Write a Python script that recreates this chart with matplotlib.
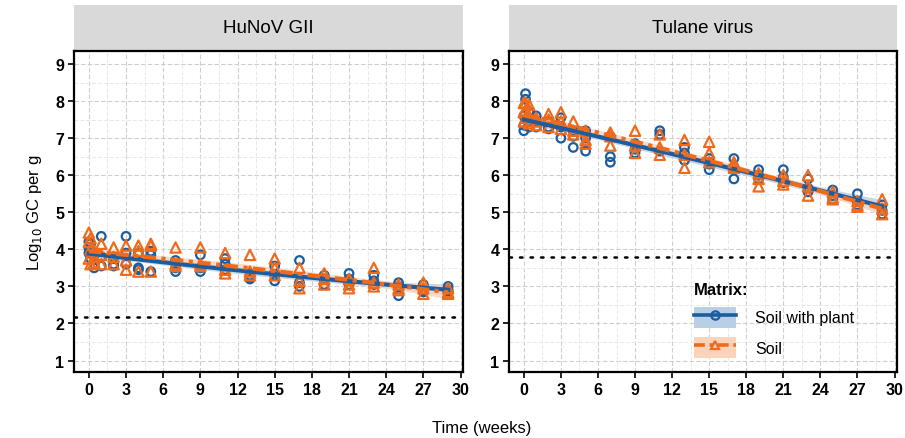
import numpy as np
import matplotlib
matplotlib.use("Agg")
import matplotlib.pyplot as plt
from matplotlib.patches import Patch, Rectangle
from matplotlib.lines import Line2D
from matplotlib.ticker import MultipleLocator

plt.rcParams["font.family"] = ["Liberation Sans", "DejaVu Sans"]

# sampling times (weeks), three replicates each
weeks = [0, 0.14, 0.43, 1, 2, 3, 4, 5, 7, 9, 11, 13, 15, 17, 19, 21, 23, 25, 27, 29]

panels = ["HuNoV GII", "Tulane virus"]
matrices = ["Soil with plant", "Soil"]
lod = [2.17, 3.78]

# log10 GC per g, HuNoV GII
hunov_plant = [
    [4.2, 4.05, 3.9], [4.15, 3.95, 3.75], [3.85, 3.6, 3.5], [4.35, 3.8, 3.55],
    [3.75, 3.6, 3.55], [4.35, 3.9, 3.6], [3.9, 3.5, 3.45], [3.95, 3.85, 3.4],
    [3.7, 3.5, 3.4], [3.85, 3.5, 3.4], [3.75, 3.6, 3.45], [3.3, 3.25, 3.2],
    [3.55, 3.3, 3.15], [3.7, 3.1, 3.0], [3.3, 3.2, 3.05], [3.35, 3.2, 3.05],
    [3.3, 3.15, 3.05], [3.1, 3.0, 2.75], [3.05, 2.9, 2.85], [3.0, 2.9, 2.85],
]
hunov_soil = [
    [4.45, 4.2, 3.75], [4.3, 4.0, 3.6], [3.95, 3.8, 3.65], [4.15, 3.85, 3.6],
    [4.05, 3.8, 3.6], [4.1, 3.7, 3.45], [4.1, 3.95, 3.4], [4.15, 4.1, 3.4],
    [4.05, 3.6, 3.55], [4.05, 3.6, 3.55], [3.9, 3.45, 3.35], [3.85, 3.4, 3.3],
    [3.75, 3.5, 3.3], [3.5, 3.15, 2.95], [3.35, 3.2, 3.05], [3.2, 3.05, 2.95],
    [3.5, 3.1, 3.0], [3.05, 2.95, 2.9], [3.1, 2.95, 2.8], [2.95, 2.85, 2.8],
]
# log10 GC per g, Tulane virus
tulane_plant = [
    [7.6, 7.35, 7.2], [8.2, 8.05, 7.5], [7.7, 7.45, 7.3], [7.6, 7.45, 7.3],
    [7.45, 7.3, 7.25], [7.55, 7.3, 7.0], [7.2, 7.05, 6.75], [7.2, 7.0, 6.65],
    [7.05, 6.5, 6.35], [6.85, 6.7, 6.6], [7.2, 7.1, 6.65], [6.75, 6.6, 6.4],
    [6.45, 6.3, 6.15], [6.45, 6.2, 5.9], [6.15, 6.0, 5.9], [6.15, 5.95, 5.8],
    [5.9, 5.65, 5.55], [5.6, 5.45, 5.35], [5.5, 5.3, 5.2], [5.2, 5.05, 4.95],
]
tulane_soil = [
    [7.95, 7.7, 7.45], [7.95, 7.75, 7.55], [7.9, 7.6, 7.4], [7.55, 7.45, 7.35],
    [7.65, 7.5, 7.3], [7.7, 7.45, 7.25], [7.45, 7.2, 7.1], [7.2, 6.95, 6.85],
    [7.15, 7.05, 6.8], [7.2, 6.8, 6.6], [7.1, 6.75, 6.55], [6.95, 6.55, 6.2],
    [6.9, 6.6, 6.35], [6.35, 6.25, 6.2], [6.05, 5.9, 5.7], [6.0, 5.85, 5.75],
    [6.0, 5.7, 5.45], [5.55, 5.4, 5.35], [5.3, 5.2, 5.15], [5.35, 5.1, 4.95],
]

data = {
    ("HuNoV GII", "Soil with plant"): hunov_plant,
    ("HuNoV GII", "Soil"): hunov_soil,
    ("Tulane virus", "Soil with plant"): tulane_plant,
    ("Tulane virus", "Soil"): tulane_soil,
}

colors = {"Soil with plant": "#1c5d9f", "Soil": "#f06a1c"}
fills = {"Soil with plant": "#b9cfe6", "Soil": "#fbd3bb"}
markers = {"Soil with plant": "o", "Soil": "^"}
lstyles = {"Soil with plant": "-", "Soil": (0, (3, 1.3, 1, 1.3))}

fig = plt.figure(figsize=(9.05, 4.39), dpi=100)
W, H = 905, 439
boxes = [(74, 463), (509, 897)]
top, bottom = 51.7, 373

for p, (x0, x1) in zip(panels, boxes):
    ax = fig.add_axes([x0 / W, (H - bottom) / H, (x1 - x0) / W, (bottom - top) / H])
    for m in matrices:
        vals = np.array(data[(p, m)])
        t = np.repeat(weeks, vals.shape[1])
        y = vals.ravel()
        # quadratic fit with 95% band
        coef, cov = np.polyfit(t, y, 2, cov=True)
        tt = np.linspace(0, 29, 200)
        X = np.vstack([tt ** 2, tt, np.ones_like(tt)]).T
        fit = X @ coef
        se = np.sqrt(np.einsum("ij,jk,ik->i", X, cov, X))
        ax.fill_between(tt, fit - 1.96 * se, fit + 1.96 * se, color=fills[m],
                        alpha=0.8, lw=0, zorder=2)
        ax.scatter(t, y, marker=markers[m], facecolors="none", edgecolors=colors[m],
                   s=55 if m == "Soil" else 38, linewidths=1.6, zorder=3)
        ax.plot(tt, fit, color=colors[m], lw=3, ls=lstyles[m], zorder=4)
    i = panels.index(p)
    ax.axhline(lod[i], color="black", ls=(0, (1, 3.2)), lw=1.8, zorder=1,
               dash_capstyle="round")

    ax.set_xlim(-1.2, 30.2)
    ax.set_ylim(0.69, 9.36)
    ax.xaxis.set_major_locator(MultipleLocator(3))
    ax.xaxis.set_minor_locator(MultipleLocator(1.5))
    ax.yaxis.set_major_locator(MultipleLocator(1))
    ax.yaxis.set_minor_locator(MultipleLocator(0.5))
    ax.grid(which="major", color="#cfcfcf", ls=(0, (4, 2)), lw=0.8)
    ax.grid(which="minor", color="#e8e8e8", ls=(0, (4, 2)), lw=0.7)
    ax.set_axisbelow(True)
    ax.tick_params(which="minor", length=0)
    ax.tick_params(which="major", length=4, width=1.2, labelsize=11.5, pad=3)
    for lab in ax.get_xticklabels() + ax.get_yticklabels():
        lab.set_fontweight("bold")
    for s in ax.spines.values():
        s.set_linewidth(1.6)

    # facet strip
    ax.add_patch(Rectangle((0, 1.0), 1, 46 / (bottom - top), transform=ax.transAxes,
                           facecolor="#d9d9d9", edgecolor="none", clip_on=False))
    ax.text(0.5, 1.0 + 23 / (bottom - top), p, transform=ax.transAxes,
            ha="center", va="center", fontsize=13.5)

    if i == 0:
        ax.set_ylabel("Log$_{10}$ GC per g", fontsize=12, labelpad=8)
    else:
        handles = [(Patch(facecolor=fills[m], edgecolor="none"),
                    Line2D([], [], color=colors[m], lw=2.6, ls=lstyles[m],
                           marker=markers[m], mfc="none", mec=colors[m], ms=6, mew=1.6))
                   for m in matrices]
        leg = ax.legend(handles, matrices, title="Matrix:", loc="lower left",
                        bbox_to_anchor=(0.44, 0.0), frameon=False, fontsize=11.5,
                        title_fontproperties={"weight": "bold", "size": 12},
                        handlelength=2.6, handleheight=1.6, labelspacing=0.6,
                        handletextpad=1.2, alignment="left")

fig.text(0.532, 0.025, "Time (weeks)", ha="center", va="center", fontsize=12)
fig.savefig("out.png", dpi=100)
